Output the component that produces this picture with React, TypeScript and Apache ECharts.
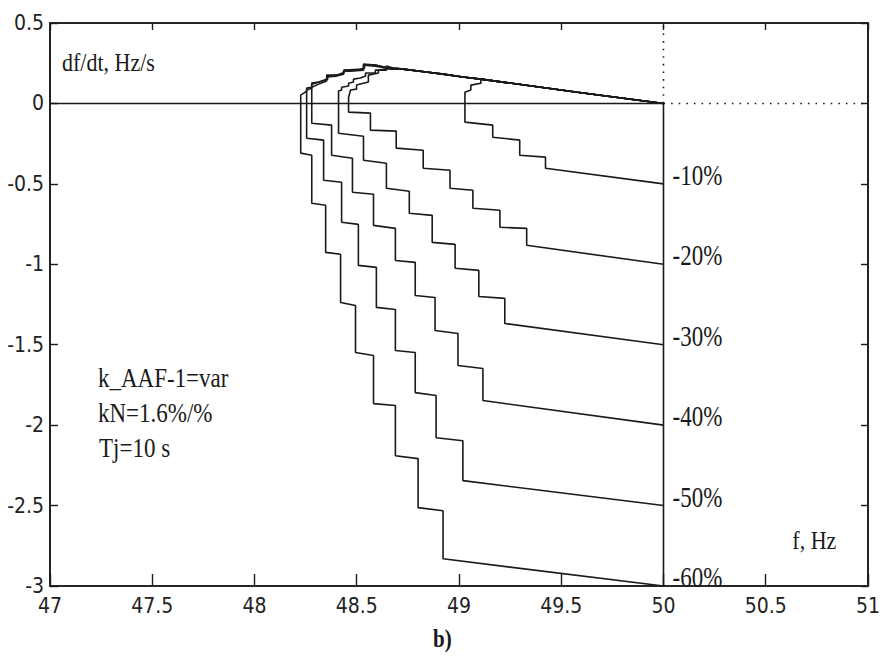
import React, { useEffect, useRef } from 'react';
import * as echarts from 'echarts';

type P = [number, number];

// Shared recovery (upper) envelope: f [Hz], df/dt [Hz/s]
const envelope: P[] = [
  [48.533, 0.245], [48.591, 0.238], [48.679, 0.213], [48.727, 0.213], [48.839, 0.195],
  [48.922, 0.182], [49.019, 0.164], [49.107, 0.151], [49.579, 0.07], [50, 0],
];

// -10%
const lower10: P[] = [
  [50, -0.5], [49.423, -0.403], [49.423, -0.334], [49.297, -0.322], [49.297, -0.228],
  [49.165, -0.21], [49.165, -0.135], [49.029, -0.116], [49.029, 0],
];
const upper10: P[] = [
  [49.029, 0.07], [49.058, 0.083], [49.058, 0.114], [49.107, 0.126], [49.107, 0.151],
];

// -20%
const lower20: P[] = [
  [50, -1.0], [49.331, -0.882], [49.331, -0.777], [49.2, -0.77], [49.2, -0.664],
  [49.068, -0.652], [49.068, -0.54], [48.956, -0.527], [48.956, -0.415], [48.825, -0.403],
  [48.825, -0.291], [48.693, -0.278], [48.693, -0.172], [48.567, -0.166], [48.567, -0.06],
  [48.46, -0.054], [48.46, 0],
];
const upper20: P[] = [
  [48.46, 0.039], [48.47, 0.083], [48.499, 0.089], [48.499, 0.114], [48.557, 0.133],
  [48.557, 0.176], [48.606, 0.189], [48.606, 0.207], [48.689, 0.22], [48.727, 0.213],
];

// -30%
const lower30: P[] = [
  [50, -1.5], [49.224, -1.368], [49.224, -1.212], [49.097, -1.2], [49.097, -1.038],
  [48.981, -1.025], [48.981, -0.876], [48.869, -0.864], [48.869, -0.696], [48.757, -0.683],
  [48.757, -0.546], [48.645, -0.527], [48.645, -0.372], [48.533, -0.353], [48.533, -0.204],
  [48.411, -0.185], [48.411, 0],
];
const upper30: P[] = [
  [48.411, 0.077], [48.426, 0.083], [48.426, 0.101], [48.46, 0.108], [48.46, 0.126],
  [48.484, 0.133], [48.484, 0.151], [48.518, 0.158], [48.543, 0.17], [48.543, 0.189],
  [48.591, 0.189], [48.591, 0.207], [48.645, 0.207], [48.645, 0.232], [48.679, 0.22],
  [48.727, 0.213],
];

// -40%
const lower40: P[] = [
  [50, -2.0], [49.117, -1.847], [49.117, -1.648], [48.995, -1.629], [48.995, -1.43],
  [48.883, -1.412], [48.883, -1.206], [48.786, -1.194], [48.786, -0.988], [48.689, -0.976],
  [48.689, -0.777], [48.582, -0.758], [48.582, -0.565], [48.479, -0.552], [48.479, -0.341],
  [48.377, -0.322], [48.377, -0.135], [48.28, -0.123], [48.28, 0],
];
const upper40: P[] = [
  [48.28, 0.101], [48.314, 0.12], [48.353, 0.139], [48.353, 0.164], [48.401, 0.17],
  [48.436, 0.182], [48.436, 0.201], [48.508, 0.207], [48.538, 0.22], [48.538, 0.238],
  [48.591, 0.232], [48.679, 0.213],
];

// -50%
const lower50: P[] = [
  [50, -2.5], [49.019, -2.345], [49.019, -2.097], [48.888, -2.078], [48.888, -1.816],
  [48.786, -1.798], [48.786, -1.548], [48.689, -1.536], [48.689, -1.281], [48.596, -1.268],
  [48.596, -1.019], [48.508, -1.007], [48.508, -0.752], [48.426, -0.739], [48.426, -0.49],
  [48.338, -0.478], [48.338, -0.228], [48.255, -0.216], [48.255, 0],
];
const upper50: P[] = [
  [48.255, 0.083], [48.28, 0.095], [48.28, 0.12], [48.319, 0.133], [48.358, 0.151],
  [48.358, 0.17], [48.411, 0.176], [48.44, 0.195], [48.44, 0.207], [48.533, 0.214],
  [48.533, 0.238], [48.591, 0.238],
];

// -60%
const lower60: P[] = [
  [50, -3.0], [48.922, -2.831], [48.922, -2.532], [48.8, -2.513], [48.8, -2.208],
  [48.689, -2.19], [48.689, -1.878], [48.582, -1.866], [48.582, -1.567], [48.494, -1.548],
  [48.494, -1.256], [48.421, -1.237], [48.421, -0.938], [48.348, -0.926], [48.348, -0.633],
  [48.28, -0.621], [48.28, -0.322], [48.226, -0.309], [48.226, 0],
];
const upper60: P[] = [
  [48.226, 0.052], [48.241, 0.064], [48.255, 0.077], [48.255, 0.095], [48.28, 0.101],
  [48.28, 0.126], [48.314, 0.133], [48.353, 0.151], [48.353, 0.176], [48.401, 0.176],
  [48.436, 0.189], [48.436, 0.207], [48.46, 0.201], [48.533, 0.207], [48.533, 0.245],
  [48.591, 0.238],
];

const percentLabels = ['-10%', '-20%', '-30%', '-40%', '-50%', '-60%'];
const endValues = [-0.5, -1.0, -1.5, -2.0, -2.5, -3.0];
const notes = ['k_AAF-1=var', 'kN=1.6%/%', 'Tj=10 s'];

const zeroSolid: P[] = [[47, 0], [50, 0]];
const zeroDotted: P[] = [[50, 0], [51, 0]];
const nominalSolid: P[] = [[50, -3], [50, 0]];
const nominalDotted: P[] = [[50, 0], [50, 0.5]];

const build = (lower: P[], upper: P[]): P[] => {
  const lastF = upper[upper.length - 1][0];
  return [...lower, ...upper, ...envelope.filter((p) => p[0] > lastF + 1e-6)];
};

const curves: P[][] = [
  build(lower10, upper10),
  build(lower20, upper20),
  build(lower30, upper30),
  build(lower40, upper40),
  build(lower50, upper50),
  build(lower60, upper60),
];

const SERIF = "'Liberation Serif', 'Times New Roman', 'DejaVu Serif', serif";
const NARROW = "'Liberation Sans Narrow', 'DejaVu Sans Condensed', 'Arial Narrow', sans-serif";
const INK = '#1a1a1a';

export default function App() {
  const ref = useRef<HTMLDivElement>(null);

  useEffect(() => {
    const el = ref.current;
    if (!el) return;
    const chart = echarts.init(el, null, { renderer: 'svg' });

    const curveSeries = curves.map((c, i) => ({
      type: 'line',
      name: percentLabels[i],
      data: c,
      showSymbol: false,
      symbol: 'none',
      silent: true,
      z: 3,
      lineStyle: { color: INK, width: 1.6 },
    }));

    const refLine = (data: P[], dotted: boolean) => ({
      type: 'line',
      data,
      showSymbol: false,
      symbol: 'none',
      silent: true,
      z: 2,
      lineStyle: dotted
        ? { color: INK, width: 1.6, type: [1.6, 6] }
        : { color: INK, width: 1.6 },
    });

    const axisCommon = {
      type: 'value',
      splitLine: { show: false },
      axisLine: { show: true, onZero: false, lineStyle: { color: INK, width: 1.6 } },
    };

    chart.setOption({
      animation: false,
      backgroundColor: '#ffffff',
      grid: {
        left: 50,
        right: 11,
        top: 23,
        bottom: 70,
        show: true,
        borderColor: INK,
        borderWidth: 1.6,
        backgroundColor: 'transparent',
      },
      xAxis: [
        {
          ...axisCommon,
          position: 'bottom',
          min: 47,
          max: 51,
          interval: 0.5,
          axisTick: { show: true, inside: true, length: 12, lineStyle: { color: INK, width: 1.4 } },
          axisLabel: { show: true, margin: 9, color: '#222', fontSize: 21, fontFamily: NARROW },
        },
        {
          ...axisCommon,
          position: 'top',
          min: 47,
          max: 51,
          interval: 0.5,
          axisTick: { show: true, inside: true, length: 7, lineStyle: { color: INK, width: 1.4 } },
          axisLabel: { show: false },
        },
      ],
      yAxis: [
        {
          ...axisCommon,
          position: 'left',
          min: -3,
          max: 0.5,
          interval: 0.5,
          axisTick: { show: true, inside: true, length: 8, lineStyle: { color: INK, width: 1.4 } },
          axisLabel: { show: true, margin: 6, color: '#222', fontSize: 21, fontFamily: NARROW },
        },
        {
          ...axisCommon,
          position: 'right',
          min: -3,
          max: 0.5,
          interval: 0.5,
          axisTick: { show: true, inside: true, length: 7, lineStyle: { color: INK, width: 1.4 } },
          axisLabel: { show: false },
        },
      ],
      series: [
        refLine(zeroSolid, false),
        refLine(zeroDotted, true),
        refLine(nominalSolid, false),
        refLine(nominalDotted, true),
        ...curveSeries,
      ],
    });

    const txt = (text: string, x: number, y: number, size: number, sy: number, weight = 'normal') => ({
      type: 'text',
      x,
      y,
      scaleY: sy,
      silent: true,
      z: 10,
      style: {
        text,
        fill: INK,
        fontSize: size,
        fontFamily: SERIF,
        fontWeight: weight,
        align: 'left',
        verticalAlign: 'middle',
        textAlign: 'left',
        textVerticalAlign: 'middle',
      },
    });

    const labelGraphics = endValues.map((v, i) => {
      const pt = chart.convertToPixel({ seriesIndex: 0 }, [50, v]) as number[];
      return txt(percentLabels[i], pt[0] + 9, pt[1] - 9, 23, 1.3);
    });

    const fHz = chart.convertToPixel({ seriesIndex: 0 }, [50.63, -2.72]) as number[];

    chart.setOption({
      graphic: [
        txt('df/dt, Hz/s', 62, 62, 22, 1.15),
        txt(notes[0], 98, 377, 23, 1.2),
        txt(notes[1], 98, 412, 23, 1.2),
        txt(notes[2], 99, 447, 23, 1.2),
        txt('f, Hz', fHz[0], fHz[1], 22, 1.15),
        txt('b)', 433, 638, 21, 1.2, 'bold'),
        ...labelGraphics,
      ],
    });

    return () => {
      chart.dispose();
    };
  }, []);

  return (
    <div
      ref={ref}
      style={{ position: 'fixed', left: 0, top: 0, width: 883, height: 656, background: '#fff' }}
    />
  );
}
